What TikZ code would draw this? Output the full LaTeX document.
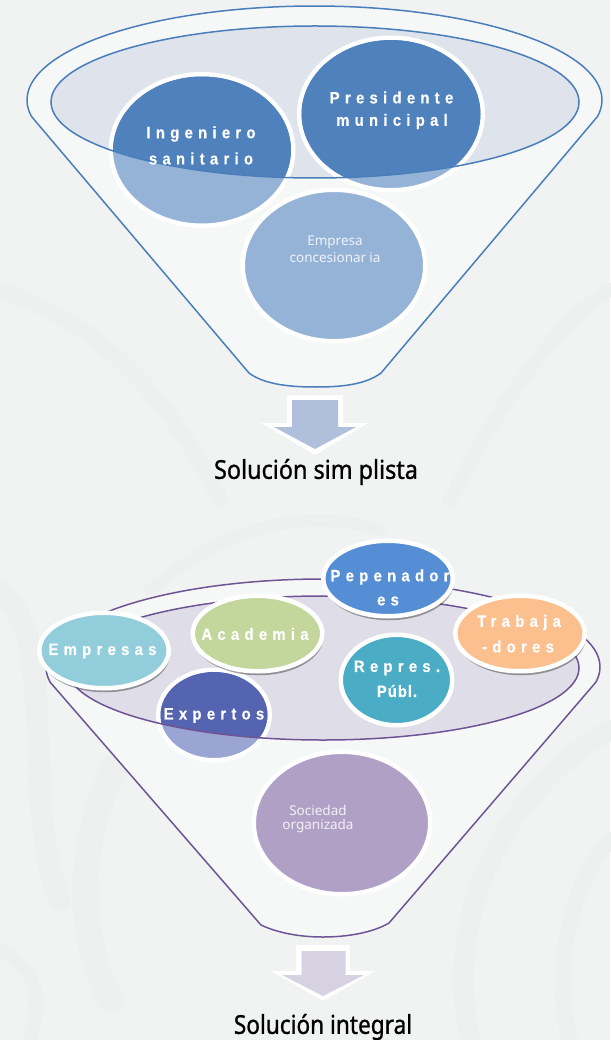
\documentclass[tikz,border=0pt]{standalone}
\usepackage{fontspec}
\setmainfont{Noto Sans}
\newfontfamily\spaced{Liberation Sans}[LetterSpace=32,FakeStretch=0.9,FakeBold=0.4]
\newfontfamily\titlefont{Noto Sans}[FakeBold=1,FakeStretch=0.9]
\usetikzlibrary{shapes.geometric,shadows}
\definecolor{bgc}{HTML}{F1F3F3}
\definecolor{swirl}{HTML}{EEF0F0}
\definecolor{funnelfill}{HTML}{F6F8F8}
\definecolor{blueline}{HTML}{4A7EBB}
\definecolor{purpleline}{HTML}{6F5495}
\definecolor{innerA}{HTML}{DEE3EC}
\definecolor{innerB}{HTML}{DFDEE8}
\definecolor{darkblue}{HTML}{4F81BD}
\definecolor{lightblue}{HTML}{95B3D7}
\definecolor{arrowA}{HTML}{AFBFDC}
\definecolor{arrowB}{HTML}{D6D2E2}
\definecolor{cEmp}{HTML}{92CDDC}
\definecolor{cAca}{HTML}{C3D69B}
\definecolor{cPep}{HTML}{558ED5}
\definecolor{cTra}{HTML}{FCC08F}
\definecolor{cRep}{HTML}{4BACC6}
\definecolor{cExpD}{HTML}{5564B0}
\definecolor{cExpL}{HTML}{9AA5D3}
\definecolor{cSoc}{HTML}{B0A0C6}
\tikzset{
  x=1pt,y=-1pt,
  blob/.style={ellipse,inner sep=0pt,outer sep=0pt,draw=white,line width=4.5pt,minimum width=#1},
  shad/.style={drop shadow={shadow xshift=1pt,shadow yshift=-4pt,fill=black,opacity=.35}},
  spacedtxt/.style={font=\spaced\bfseries\fontsize{16.5}{18}\selectfont,text=white,inner sep=0pt,align=center},
  thintxt/.style={font=\fontsize{13.5}{15}\selectfont,text=white,inner sep=0pt,align=center,opacity=.85},
  titletxt/.style={font=\titlefont\fontsize{26}{28}\selectfont,text=black,inner sep=0pt},
  swirlline/.style={draw=swirl,line width=#1,line cap=round,fill=none}
}
\begin{document}
\begin{tikzpicture}
\useasboundingbox (0,0) rectangle (610,1040);
\fill[bgc] (0,0) rectangle (610,1040);
% faint background swirls
\draw[swirlline=22pt] (0,590) .. controls (60,640) and (20,800) .. (60,900);
\draw[swirlline=26pt] (110,1000) .. controls (60,900) and (90,760) .. (170,700);
\draw[swirlline=20pt] (470,1040) .. controls (440,900) and (520,780) .. (610,730);
\draw[swirlline=16pt] (570,1040) .. controls (550,960) and (575,880) .. (610,840);
\draw[swirlline=14pt] (0,950) .. controls (40,970) and (40,1000) .. (30,1040);
\draw[swirlline=16pt] (0,290) .. controls (120,330) and (180,420) .. (220,500);
\draw[swirlline=14pt] (450,500) .. controls (500,400) and (560,320) .. (610,290);
\draw[swirlline=12pt] (380,530) .. controls (300,505) and (220,530) .. (150,590);

% ---------- top funnel ----------
\path[draw=blueline,fill=funnelfill,line width=1.5pt,line join=round]
  plot[domain=170:370,samples=90] ({314.5+287.5*cos(\x)},{100+94*sin(\x)})
  -- (381,373) .. controls (365,385) and (340,387) .. (316,387)
  .. controls (292,387) and (265,385) .. (249,373) -- cycle;
\path[fill=innerA] (315,102) ellipse [x radius=264pt,y radius=76pt];

\node[blob=182.5pt,minimum height=151.5pt,fill=lightblue] (ing) at (202,150) {};
\node[blob=183.5pt,minimum height=152.5pt,fill=lightblue] (pre) at (391,114) {};
\node[blob=182.5pt,minimum height=151.5pt,fill=lightblue] (emc) at (334,265.5) {};
\begin{scope}
  \clip (315,102) ellipse [x radius=264pt,y radius=76pt];
  \fill[darkblue] (ing.center) ellipse [x radius=89pt,y radius=73.5pt];
  \fill[darkblue] (pre.center) ellipse [x radius=89.5pt,y radius=74pt];
\end{scope}
\draw[blueline,line width=1.5pt] (315,102) ellipse [x radius=264pt,y radius=76pt];

\node[spacedtxt] (ingt) at (201,134) {Ingeniero};
\node[spacedtxt] (ingu) at (201,158.5) {sanitario};
\node[spacedtxt] (pret) at (391.5,97.5) {Presidente};
\node[spacedtxt] (preu) at (392,121.5) {municipal};
\node[thintxt] (emt) at (335,242.5) {Empresa};
\node[thintxt] (emu) at (335,257.5) {concesionar\hspace{3pt}ia};

\fill[white] (287,395) -- (343,395) -- (343,423) -- (368,423) -- (315,455) -- (261,423) -- (287,423) -- cycle;
\fill[arrowA] (292,400) -- (338,400) -- (338,427) -- (356,427) -- (315,449) -- (274,427) -- (292,427) -- cycle;
\node[titletxt] (sol1) at (316,472) {Solución sim\kern6pt plista};

% ---------- bottom funnel ----------
\path[draw=purpleline,fill=funnelfill,line width=1.5pt,line join=round]
  plot[domain=170:370,samples=90] ({323+277*cos(\x)},{667+88*sin(\x)})
  -- (389,923) .. controls (372,933) and (346,937) .. (323,937)
  .. controls (300,937) and (278,933) .. (261,925) -- cycle;
\path[fill=innerB] (323,668) ellipse [x radius=256pt,y radius=72pt];

\node[blob=111.5pt,minimum height=90.5pt,fill=cExpL] (exp) at (214,715) {};
\begin{scope}
  \clip (323,668) ellipse [x radius=256pt,y radius=72pt];
  \fill[cExpD] (exp.center) ellipse [x radius=53.5pt,y radius=43pt];
\end{scope}
\draw[purpleline,line width=1.5pt] (323,668) ellipse [x radius=256pt,y radius=72pt];

\node[blob=129.5pt,minimum height=75.5pt,fill=cEmp,shad] (empr) at (104,650.5) {};
\node[blob=129.5pt,minimum height=75.5pt,fill=cAca,shad] (aca) at (257.5,633.5) {};
\node[blob=129.5pt,minimum height=75.5pt,fill=cPep,shad] (pep) at (388,578.5) {};
\node[blob=129.5pt,minimum height=75.5pt,fill=cTra,shad] (tra) at (520,633.5) {};
\node[blob=111.5pt,minimum height=90.5pt,fill=cRep] (rep) at (396.5,680) {};
\node[blob=176.5pt,minimum height=142.5pt,fill=cSoc] (soc) at (342,823) {};

\node[spacedtxt] at (102.5,651) (emprt) {Empresas};
\node[spacedtxt] at (255,634) (acat) {Academia};
\node[spacedtxt] at (390,577) (pept) {Pepenador};
\node[spacedtxt] at (388,601) (pepu) {es};
\node[spacedtxt] at (519,622.5) (trat) {Trabaja};
\node[spacedtxt] at (518,646.5) (trau) {-dores};
\node[spacedtxt] at (397,668) (rept) {Repres.};
\node[font=\spaced\bfseries\fontsize{16.5}{18}\selectfont,text=white,inner sep=0pt] at (397,691) (repu) {\addfontfeature{LetterSpace=6}Públ.};
\node[spacedtxt] at (214,715.5) (expt) {Expertos};
\node[thintxt] at (318,810) (soct) {Sociedad};
\node[thintxt] at (318,826) (socu) {organizada};

\fill[white] (296,945) -- (350,945) -- (350,971) -- (375,971) -- (323,1001) -- (271,971) -- (296,971) -- cycle;
\fill[arrowB] (301.5,951) -- (345.5,951) -- (345.5,975) -- (364,975) -- (323,996) -- (282,975) -- (301.5,975) -- cycle;
\node[titletxt] (sol2) at (323,1027) {\addfontfeature{FakeStretch=0.87}Solución integral};
\end{tikzpicture}
\end{document}
